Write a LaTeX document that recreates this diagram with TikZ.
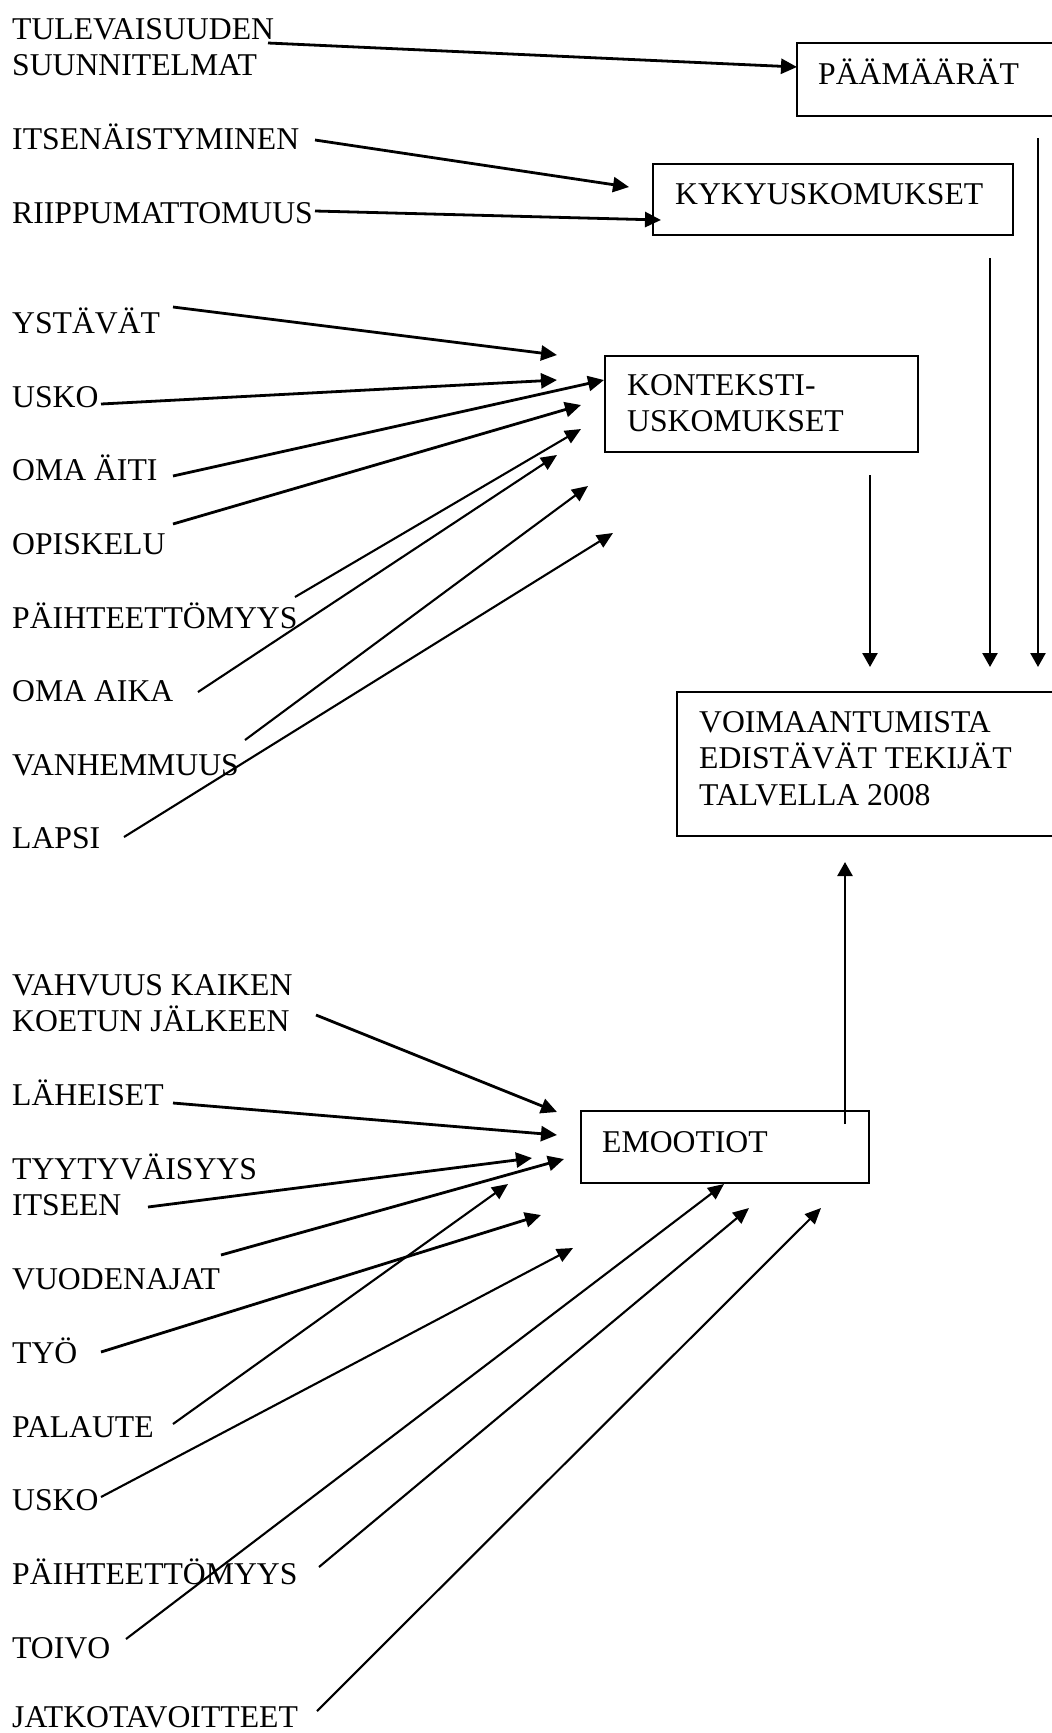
\documentclass[tikz,border=0pt]{standalone}
\usepackage{fontspec}
\setmainfont{Liberation Serif}
\usetikzlibrary{arrows.meta}
\newcommand{\twolines}[1]{\begin{tabular}[t]{@{}l@{}}#1\end{tabular}}
\begin{document}
\begin{tikzpicture}[x=1pt,y=-1pt,
  lab/.style={anchor=base west, inner sep=0pt, font=\fontsize{31.7}{36.9}\selectfont},
  box/.style={draw, line width=2.2pt, anchor=north west, inner sep=0pt, outer sep=0pt},
  thickarr/.style={line width=2.8pt, -{Triangle[length=16pt,width=15pt]}},
  thinarr/.style={line width=2.1pt, -{Triangle[length=16pt,width=14pt]}},
  vertarr/.style={line width=2.5pt, -{Triangle[length=14pt,width=15pt]}},
]
\useasboundingbox (0,0) rectangle (1052,1733);
\clip (0,0) rectangle (1052,1733);
\fill[white] (0,0) rectangle (1052,1733);

% ---------------- boxes ----------------
\node[box, minimum width=270pt, minimum height=73pt] (paa) at (797,43) {};
\node[lab] (paat) at (818,84) {PÄÄMÄÄRÄT};

\node[box, minimum width=360pt, minimum height=71pt] (kyky) at (653,164) {};
\node[lab] (kykyt) at (675,204) {KYKYUSKOMUKSET};

\node[box, minimum width=313pt, minimum height=96pt] (kont) at (605,356) {};
\node[lab] (kontt) at (627,395) {\twolines{KONTEKSTI-\\USKOMUKSET}};

\node[box, minimum width=390pt, minimum height=144pt] (voim) at (677,692) {};
\node[lab] (voimt) at (699,732) {\twolines{VOIMAANTUMISTA\\EDISTÄVÄT TEKIJÄT\\TALVELLA 2008}};

\node[box, minimum width=288pt, minimum height=72pt] (emo) at (581,1111) {};
\node[lab] (emot) at (602,1152) {EMOOTIOT};

% ---------------- left labels ----------------
\node[lab] (tul) at (12,39) {\twolines{TULEVAISUUDEN\\SUUNNITELMAT}};
\node[lab] (its) at (12,149) {ITSENÄISTYMINEN};
\node[lab] (rii) at (12,223) {RIIPPUMATTOMUUS};

\node[lab] (yst) at (12,333) {YSTÄVÄT};
\node[lab] (usk1) at (12,407) {USKO};
\node[lab] (oma) at (12,480) {OMA ÄITI};
\node[lab] (opi) at (12,554) {OPISKELU};
\node[lab] (pai1) at (12,628) {PÄIHTEETTÖMYYS};
\node[lab] (aik) at (12,701) {OMA AIKA};
\node[lab] (van) at (12,775) {VANHEMMUUS};
\node[lab] (lap) at (12,848) {LAPSI};

\node[lab] (vah) at (12,995) {\twolines{VAHVUUS KAIKEN\\KOETUN JÄLKEEN}};
\node[lab] (lah) at (12,1105) {LÄHEISET};
\node[lab] (tyy) at (12,1179) {\twolines{TYYTYVÄISYYS\\ITSEEN}};
\node[lab] (vuo) at (12,1289) {VUODENAJAT};
\node[lab] (tyo) at (12,1363) {TYÖ};
\node[lab] (pal) at (12,1437) {PALAUTE};
\node[lab] (usk2) at (12,1510) {USKO};
\node[lab] (pai2) at (12,1584) {PÄIHTEETTÖMYYS};
\node[lab] (toi) at (12,1658) {TOIVO};
\node[lab] (jat) at (12,1727) {JATKOTAVOITTEET};

% ---------------- connector end points ----------------
\coordinate (s1) at (268,43);   \coordinate (t1) at (797,67);
\coordinate (s2) at (315,140);  \coordinate (t2) at (629,187);
\coordinate (s3) at (315,211);  \coordinate (t3) at (661,220);

\coordinate (s4) at (173,307);  \coordinate (t4) at (557,355);
\coordinate (s5) at (101,404);  \coordinate (t5) at (557,380);
\coordinate (s6) at (173,476);  \coordinate (t6) at (604,380);
\coordinate (s7) at (173,524);  \coordinate (t7) at (581,405);
\coordinate (s8) at (295,597);  \coordinate (t8) at (581,429);
\coordinate (s9) at (198,692);  \coordinate (t9) at (557,455);
\coordinate (s10) at (245,740); \coordinate (t10) at (588,486);
\coordinate (s11) at (124,837); \coordinate (t11) at (613,533);

\coordinate (s12) at (316,1015); \coordinate (t12) at (557,1112);
\coordinate (s13) at (173,1103); \coordinate (t13) at (557,1135);
\coordinate (s14) at (148,1207); \coordinate (t14) at (532,1158);
\coordinate (s15) at (221,1255); \coordinate (t15) at (564,1159);
\coordinate (s16) at (101,1352); \coordinate (t16) at (541,1215);
\coordinate (s17) at (173,1424); \coordinate (t17) at (508,1184);
\coordinate (s18) at (101,1497); \coordinate (t18) at (573,1248);
\coordinate (s19) at (319,1567); \coordinate (t19) at (749,1208);
\coordinate (s20) at (126,1639); \coordinate (t20) at (724,1184);
\coordinate (s21) at (317,1711); \coordinate (t21) at (821,1208);

\coordinate (v1s) at (1038,138); \coordinate (v1t) at (1038,667);
\coordinate (v2s) at (990,258);  \coordinate (v2t) at (990,667);
\coordinate (v3s) at (870,475);  \coordinate (v3t) at (870,667);
\coordinate (u1s) at (845,1124); \coordinate (u1t) at (845,862);

% ---------------- connectors ----------------
\draw[thickarr] (s1) -- (t1);
\draw[thickarr] (s2) -- (t2);
\draw[thickarr] (s3) -- (t3);

\draw[thickarr] (s4) -- (t4);
\draw[thickarr] (s5) -- (t5);
\draw[thickarr] (s6) -- (t6);
\draw[thickarr] (s7) -- (t7);
\draw[thinarr] (s8) -- (t8);
\draw[thinarr] (s9) -- (t9);
\draw[thinarr] (s10) -- (t10);
\draw[thinarr] (s11) -- (t11);

\draw[thickarr] (s12) -- (t12);
\draw[thickarr] (s13) -- (t13);
\draw[thickarr] (s14) -- (t14);
\draw[thickarr] (s15) -- (t15);
\draw[thickarr] (s16) -- (t16);
\draw[thinarr] (s17) -- (t17);
\draw[thinarr] (s18) -- (t18);
\draw[thinarr] (s19) -- (t19);
\draw[thinarr] (s20) -- (t20);
\draw[thinarr] (s21) -- (t21);

\draw[vertarr] (v1s) -- (v1t);
\draw[vertarr] (v2s) -- (v2t);
\draw[vertarr] (v3s) -- (v3t);
\draw[vertarr] (u1s) -- (u1t);
\end{tikzpicture}
\end{document}
